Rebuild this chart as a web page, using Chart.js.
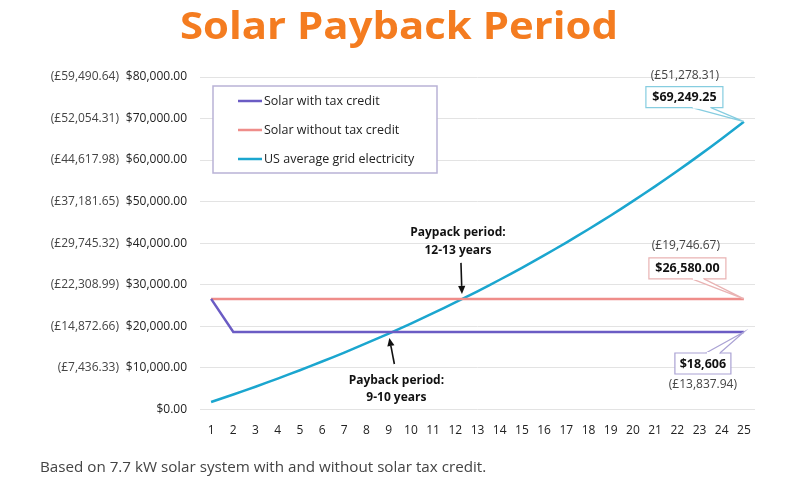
<!DOCTYPE html>
<html><head><meta charset="utf-8">
<script src="https://cdn.jsdelivr.net/npm/chart.js@4"></script>
<style>html,body{margin:0;padding:0;background:#fff;overflow:hidden}#wrap{width:800px;height:490px;position:relative}</style>
</head><body><div id="wrap"><canvas id="c"></canvas></div>
<script>
const years = ['1','2','3','4','5','6','7','8','9','10','11','12','13','14','15','16','17','18','19','20','21','22','23','24','25'];
const solarWithCredit = [26580,18606,18606,18606,18606,18606,18606,18606,18606,18606,18606,18606,18606,18606,18606,18606,18606,18606,18606,18606,18606,18606,18606,18606,18606];
const solarWithoutCredit = [26580,26580,26580,26580,26580,26580,26580,26580,26580,26580,26580,26580,26580,26580,26580,26580,26580,26580,26580,26580,26580,26580,26580,26580,26580];
const gridElectricity = [1750,3560,5440,7390,9410,11500,13660,15910,18240,20650,23140,25730,28410,31190,34070,37050,40140,43350,46670,50110,53670,57360,61190,65160,69249.25];
const seriesLabels = ['Solar with tax credit','Solar without tax credit','US average grid electricity'];
const yTickValues = [0,10000,20000,30000,40000,50000,60000,70000,80000];
const poundTickLabels = ['','(£7,436.33)','(£14,872.66)','(£22,308.99)','(£29,745.32)','(£37,181.65)','(£44,617.98)','(£52,054.31)','(£59,490.64)'];
const endDollarLabels = ['$18,606','$26,580.00','$69,249.25'];
const endPoundLabels = ['(£13,837.94)','(£19,746.67)','(£51,278.31)'];
const titleText = 'Solar Payback Period';
const footText = 'Based on 7.7 kW solar system with and without solar tax credit.';
const noteUpper = ['Paypack period:','12-13 years'];
const noteLower = ['Payback period:','9-10 years'];

const FONT = '"Open Sans", "Noto Sans", sans-serif';
const COLORS = ['#6b5cc4','#ef8d8a','#1ba6cf'];
const BORDERS = ['#aaa2d4','#e9b3b3','#86cde0'];

function arrow(ctx, x1, y1, x2, y2){
  ctx.strokeStyle='#111'; ctx.fillStyle='#111'; ctx.lineWidth=1.6;
  const a=Math.atan2(y2-y1,x2-x1), L=8, W=3.6;
  const bx=x2-L*Math.cos(a), by=y2-L*Math.sin(a);
  ctx.beginPath(); ctx.moveTo(x1,y1); ctx.lineTo(bx,by); ctx.stroke();
  ctx.beginPath(); ctx.moveTo(x2,y2);
  ctx.lineTo(bx+W*Math.sin(a), by-W*Math.cos(a));
  ctx.lineTo(bx-W*Math.sin(a), by+W*Math.cos(a));
  ctx.closePath(); ctx.fill();
}
function callout(ctx, p, bx, by, bw, bh, wx1, wx2, wy, color, text){
  ctx.lineWidth=1.2; ctx.strokeStyle=color; ctx.fillStyle='#fff';
  ctx.beginPath(); ctx.rect(bx,by,bw,bh); ctx.fill(); ctx.stroke();
  ctx.beginPath(); ctx.moveTo(wx1,wy); ctx.lineTo(p.x,p.y); ctx.lineTo(wx2,wy); ctx.closePath(); ctx.fill();
  ctx.beginPath(); ctx.moveTo(wx1,wy); ctx.lineTo(p.x,p.y); ctx.lineTo(wx2,wy); ctx.stroke();
  ctx.fillStyle='#fff'; ctx.fillRect(Math.min(wx1,wx2)+0.8, wy-1, Math.abs(wx2-wx1)-1.6, 2);
  ctx.fillStyle='#111'; ctx.font='bold 12.5px '+FONT; ctx.textAlign='center'; ctx.textBaseline='middle';
  ctx.fillText(text, bx+bw/2, by+bh/2+0.5);
}

const overlay = {
  id:'overlay',
  afterDraw(chart){
    const ctx=chart.ctx, ca=chart.chartArea, xs=chart.scales.x, ys=chart.scales.y;
    ctx.save();
    // title
    ctx.font='bold 37px '+FONT; ctx.fillStyle='#f47c20'; ctx.textAlign='left'; ctx.textBaseline='alphabetic';
    const tw=ctx.measureText(titleText).width, target=438, sx=target/tw;
    ctx.save(); ctx.translate(399-target/2, 39); ctx.scale(sx,1); ctx.fillText(titleText,0,0); ctx.restore();
    // footnote
    ctx.font='15.2px '+FONT; ctx.fillStyle='#444'; ctx.textAlign='left'; ctx.textBaseline='middle';
    ctx.fillText(footText, 40, 468);
    // pound tick labels
    ctx.font='12px '+FONT; ctx.fillStyle='#444'; ctx.textAlign='right'; ctx.textBaseline='middle';
    yTickValues.forEach((v,i)=>{ if(poundTickLabels[i]) ctx.fillText(poundTickLabels[i], 119, ys.getPixelForValue(v)); });
    // legend
    const lx=ca.left+13, ly=ca.top+9, lw=224, lh=87;
    ctx.fillStyle='#fff'; ctx.fillRect(lx,ly,lw,lh);
    ctx.strokeStyle='#b9b2d6'; ctx.lineWidth=1.5; ctx.strokeRect(lx,ly,lw,lh);
    ctx.font='12.5px '+FONT; ctx.textAlign='left'; ctx.textBaseline='middle';
    chart.data.datasets.forEach((ds,i)=>{
      const yy=ly+15+i*29;
      ctx.strokeStyle=ds.borderColor; ctx.lineWidth=2.5;
      ctx.beginPath(); ctx.moveTo(lx+25,yy); ctx.lineTo(lx+49,yy); ctx.stroke();
      ctx.fillStyle='#222'; ctx.fillText(ds.label, lx+51, yy);
    });
    // end callouts
    const last=years.length-1;
    const pts=chart.data.datasets.map((ds,i)=>chart.getDatasetMeta(i).data[last]);
    let p=pts[2];
    callout(ctx,p,p.x-98,p.y-35,77,21,p.x-52,p.x-33,p.y-14,BORDERS[2],endDollarLabels[2]);
    ctx.font='12px '+FONT; ctx.fillStyle='#444'; ctx.textAlign='center'; ctx.textBaseline='middle';
    ctx.fillText(endPoundLabels[2], p.x-59, p.y-46);
    p=pts[1];
    callout(ctx,p,p.x-95,p.y-41,77,21,p.x-52,p.x-40,p.y-20,BORDERS[1],endDollarLabels[1]);
    ctx.font='12px '+FONT; ctx.fillStyle='#444'; ctx.textAlign='center'; ctx.textBaseline='middle';
    ctx.fillText(endPoundLabels[1], p.x-58, p.y-53);
    p=pts[0];
    callout(ctx,p,p.x-69,p.y+21,56,21,p.x-38,p.x-24,p.y+21,BORDERS[0],endDollarLabels[0]);
    ctx.font='12px '+FONT; ctx.fillStyle='#444'; ctx.textAlign='center'; ctx.textBaseline='middle';
    ctx.fillText(endPoundLabels[0], p.x-41, p.y+53);
    // payback arrows
    const tU={x:xs.getPixelForValue(11.3), y:ys.getPixelForValue(solarWithoutCredit[0])-5};
    arrow(ctx, tU.x-1, tU.y-31, tU.x, tU.y);
    ctx.font='bold 12px '+FONT; ctx.fillStyle='#111'; ctx.textAlign='center'; ctx.textBaseline='middle';
    ctx.fillText(noteUpper[0], tU.x-4, tU.y-61);
    ctx.fillText(noteUpper[1], tU.x-4, tU.y-43);
    const tL={x:xs.getPixelForValue(8.03), y:ys.getPixelForValue(solarWithCredit[1])+6};
    arrow(ctx, tL.x+5, tL.y+26, tL.x, tL.y);
    ctx.fillText(noteLower[0], tL.x+7, tL.y+43);
    ctx.fillText(noteLower[1], tL.x+7, tL.y+60);
    ctx.restore();
  }
};

new Chart(document.getElementById('c'), {
  type:'line',
  data:{
    labels:years,
    datasets:[
      {label:seriesLabels[0], data:solarWithCredit, borderColor:COLORS[0], borderWidth:2.5, pointRadius:0, tension:0},
      {label:seriesLabels[1], data:solarWithoutCredit, borderColor:COLORS[1], borderWidth:2.5, pointRadius:0, tension:0},
      {label:seriesLabels[2], data:gridElectricity, borderColor:COLORS[2], borderWidth:2.5, pointRadius:0, tension:0.3}
    ]
  },
  options:{
    responsive:true, maintainAspectRatio:false, animation:false, events:[],
    layout:{padding:{top:77,right:45,left:0,bottom:0}},
    plugins:{legend:{display:false}, tooltip:{enabled:false}, title:{display:false}},
    scales:{
      x:{offset:true, grid:{display:false}, border:{display:false},
         ticks:{color:'#222', font:{family:FONT,size:12}, padding:6, maxRotation:0, autoSkip:false},
         afterFit(s){ s.height=80.7; }},
      y:{min:0, max:80000, grid:{color:'#e3e3e3', lineWidth:1, drawTicks:false}, border:{display:false},
         ticks:{stepSize:10000, color:'#222', font:{family:FONT,size:12}, padding:13,
           callback:(v)=>'$'+Number(v).toLocaleString('en-US',{minimumFractionDigits:2,maximumFractionDigits:2})},
         afterFit(s){ s.width=200; }}
    }
  },
  plugins:[overlay]
});
</script></body></html>
